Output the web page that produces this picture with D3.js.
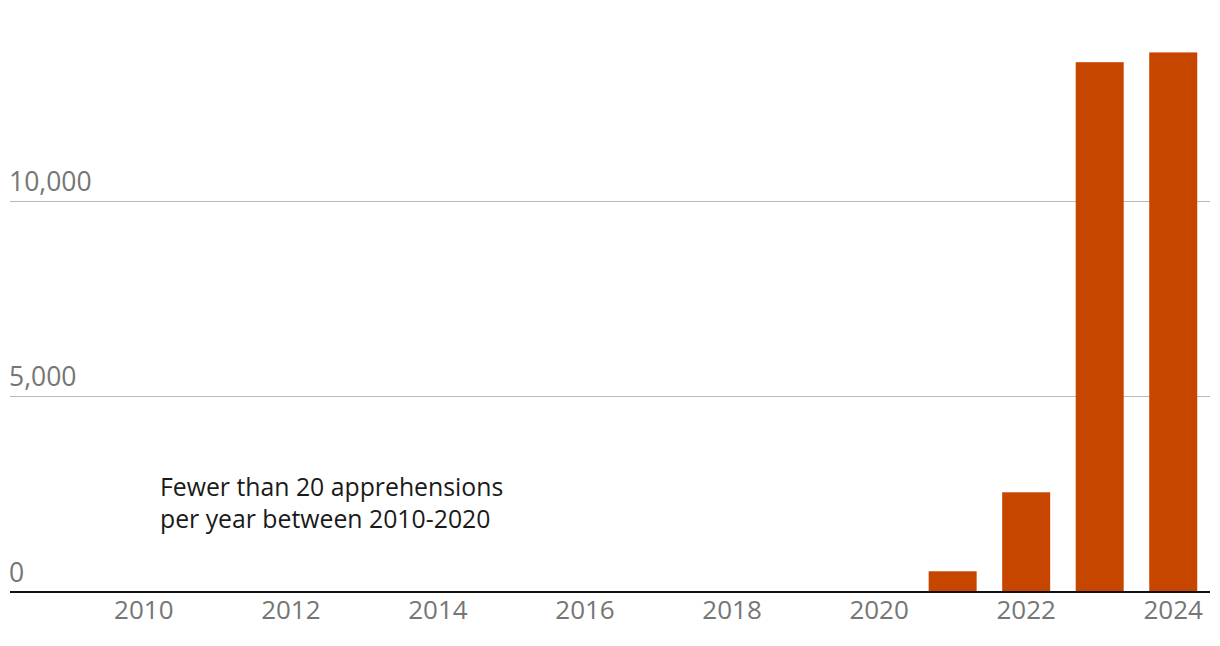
<!DOCTYPE html>
<html>
<head>
<meta charset="utf-8">
<script src="https://cdn.jsdelivr.net/npm/d3@7"></script>
<style>
  html, body { margin: 0; padding: 0; background: #fff; }
  svg { display: block; }
  text { font-family: "Open Sans", "Noto Sans", sans-serif; }
</style>
</head>
<body>
<svg id="chart" width="1220" height="646"></svg>
<script>
// Data
const years = [2009, 2010, 2011, 2012, 2013, 2014, 2015, 2016, 2017, 2018, 2019, 2020, 2021, 2022, 2023, 2024];
const apprehensions = [8, 5, 10, 6, 4, 7, 9, 12, 6, 8, 5, 10, 530, 2550, 13550, 13800];
const yTicks = [0, 5000, 10000];
const xTicks = [2010, 2012, 2014, 2016, 2018, 2020, 2022, 2024];
const noteLines = ["Fewer than 20 apprehensions", "per year between 2010-2020"];

const svg = d3.select("#chart");
const left = 10, right = 1210;

const x = d3.scaleLinear().domain([2008.18, 2024.5]).range([left, right]);
const y = d3.scaleLinear().domain([0, 10000]).range([592, 201]);
const barW = 48;

// gridlines + y labels
const yFmt = d3.format(",");
yTicks.filter(d => d > 0).forEach(t => {
  const yy = Math.round(y(t) - 0.5) + 0.5;
  svg.append("line")
    .attr("x1", left).attr("x2", right)
    .attr("y1", yy).attr("y2", yy)
    .attr("stroke", "#b9b9b9").attr("stroke-width", 1);
});
svg.append("g").selectAll("text").data(yTicks).join("text")
  .attr("x", left - 1)
  .attr("y", d => y(d) - 10.5)
  .attr("fill", "#767676")
  .attr("font-size", 26.5)
  .text(d => yFmt(d));

// bars
svg.append("g").selectAll("rect").data(years.map((yr, i) => ({yr, v: apprehensions[i]}))).join("rect")
  .attr("x", d => x(d.yr) - barW / 2)
  .attr("width", barW)
  .attr("y", d => y(d.v))
  .attr("height", d => y(0) - y(d.v))
  .attr("fill", "#c64600");

// baseline
svg.append("line")
  .attr("x1", left).attr("x2", right)
  .attr("y1", 592).attr("y2", 592)
  .attr("stroke", "#111").attr("stroke-width", 2);

// x axis labels
svg.append("g").selectAll("text").data(xTicks).join("text")
  .attr("x", d => x(d))
  .attr("y", 618.5)
  .attr("text-anchor", "middle")
  .attr("fill", "#767676")
  .attr("font-size", 26)
  .text(d => d);

// note
svg.append("g").selectAll("text").data(noteLines).join("text")
  .attr("x", 160)
  .attr("y", (d, i) => 496 + i * 32)
  .attr("fill", "#1a1a1a")
  .attr("font-size", 24.8)
  .text(d => d);
</script>
</body>
</html>
